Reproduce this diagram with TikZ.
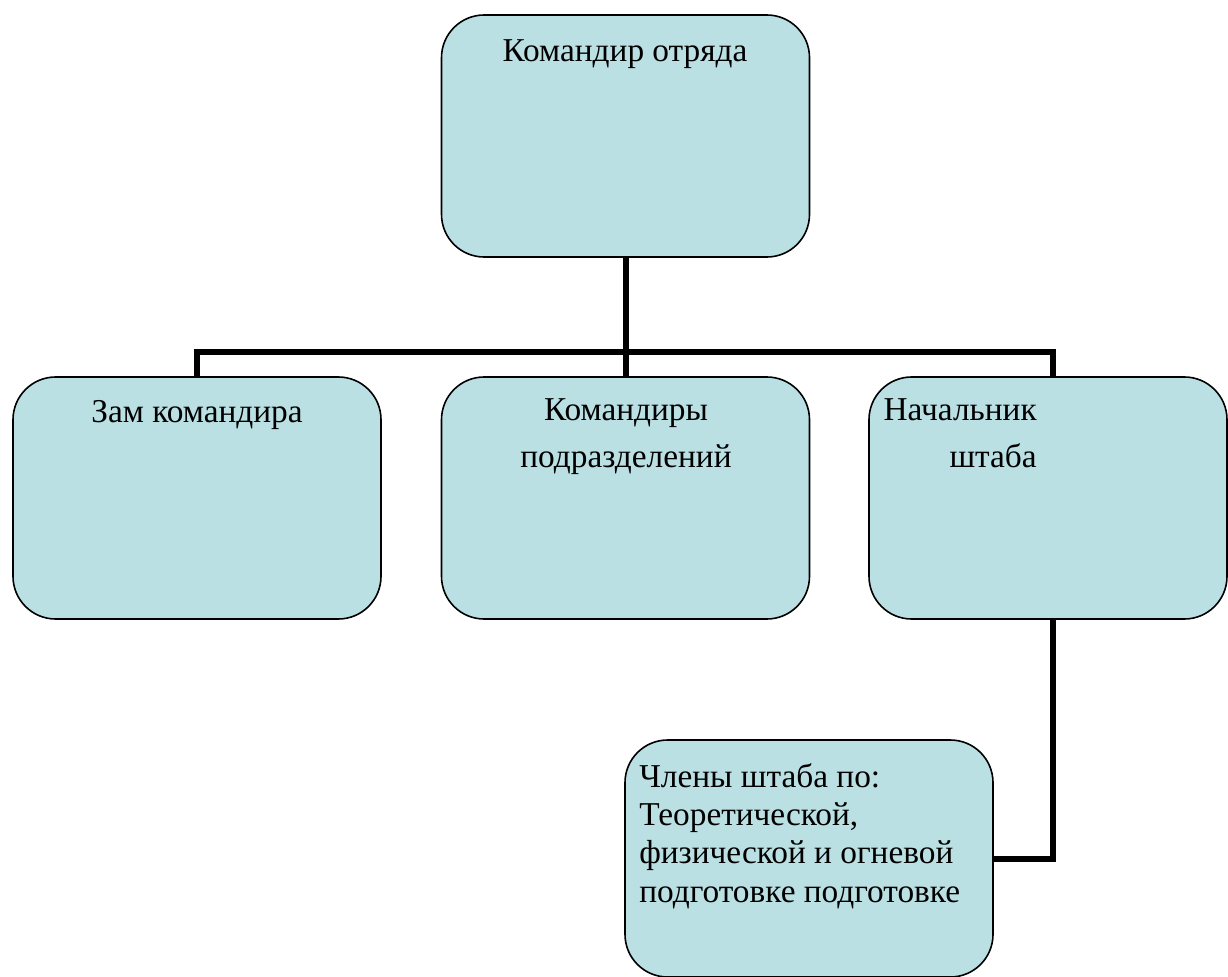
\documentclass[tikz,border=0pt]{standalone}
\usepackage{fontspec}
\setmainfont{Liberation Serif}
\definecolor{boxblue}{RGB}{186,224,228}
\begin{document}
\begin{tikzpicture}[x=0.75pt,y=-0.75pt,
    box/.style={draw=black,line width=1.2pt,fill=boxblue,rounded corners=32pt,
        inner sep=0pt,minimum width=276pt,minimum height=181.5pt},
    link/.style={draw=black,line width=4.5pt},
    lbl/.style={inner sep=0pt,font=\fontsize{25}{35.25}\selectfont}]
    \useasboundingbox (0,0) rectangle (1228,977);
    % boxes
    \node [box] (komotr) at (625.5,136) {};
    \node [box] (zam) at (197,498) {};
    \node [box] (kompod) at (625.5,498) {};
    \node [box,minimum width=268.5pt] (nach) at (1048,498) {};
    \node [box,minimum height=177.75pt] (chleny) at (809,858.5) {};
    % texts (base = last line)
    \node [lbl,anchor=base] (tkomotr) at (625,62) {Командир отряда};
    \node [lbl,anchor=base] (tzam) at (197,422) {Зам командира};
    \node [lbl,anchor=base,align=center] (tkompod) at (626,467) {Командиры\\подразделений};
    \node [lbl,anchor=base east,align=right] (tnach) at (1037,467) {Начальник\\штаба};
    \node [lbl,anchor=base west,align=left,font=\fontsize{25}{28.75}\selectfont] (tchleny) at (639,902)
        {Члены штаба по:\\Теоретической,\\физической и огневой\\подготовке подготовке};
    % connectors
    \coordinate (bus) at (625.5,352);
    \draw [link] (komotr.south) -- (bus);
    \draw [link] (bus) -| (zam.north);
    \draw [link] (bus) -- (kompod.north);
    \draw [link] (bus) -| ([xshift=3.75pt]nach.north);
    \draw [link] ([xshift=3.75pt]nach.south) |- (chleny.east);
\end{tikzpicture}
\end{document}
